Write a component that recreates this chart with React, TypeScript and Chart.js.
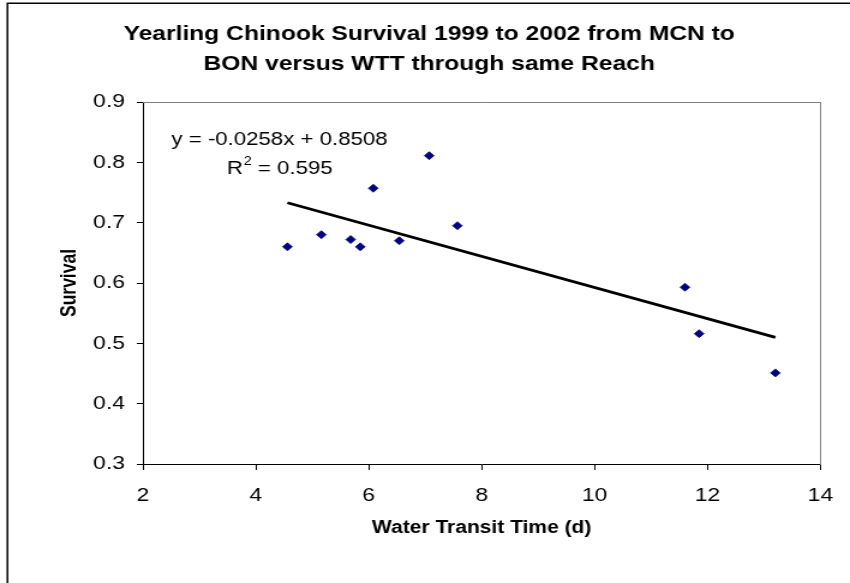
import React, { useEffect, useRef } from "react";
import { Chart, registerables } from "chart.js";

Chart.register(...registerables);

// ---- Data ----
const titleLines = [
  "Yearling Chinook Survival 1999 to 2002 from MCN to",
  "BON versus WTT through same Reach",
];
const xAxisTitle = "Water Transit Time (d)";
const yAxisTitle = "Survival";

const waterTransitTime = [4.56, 5.16, 5.68, 5.85, 6.08, 6.54, 7.07, 7.57, 11.6, 11.85, 13.2];
const survival = [0.66, 0.68, 0.672, 0.66, 0.757, 0.67, 0.811, 0.695, 0.593, 0.516, 0.451];

// Linear trendline end points (as drawn in the reference)
const trendX = [4.56, 13.2];
const trendY = [0.733, 0.51];

const equationText = "y = -0.0258x + 0.8508";
const rSquaredValue = "0.595";
// anchor of the equation label, in data units
const equationAnchor = { x: 4.42, y: 0.837 };
const rSquaredAnchor = { x: 4.42, y: 0.789 };

const xTicks = [2, 4, 6, 8, 10, 12, 14];
const yTicks = [0.3, 0.4, 0.5, 0.6, 0.7, 0.8, 0.9];

const FONT = "'Liberation Sans', Arial, Helvetica, sans-serif";

// The original chart picture is a horizontally stretched Excel chart:
// the canvas is drawn at a narrower backing size and shown at 850px.
const VIEW_W = 850;
const VIEW_H = 583;
const CANVAS_W = 708;
const CANVAS_H = 583;

const decorPlugin = {
  id: "decor",
  beforeDraw(chart: any) {
    const { ctx } = chart;
    ctx.save();
    ctx.fillStyle = "#ffffff";
    ctx.fillRect(0, 0, chart.width, chart.height);
    // outer chart border
    ctx.strokeStyle = "#000000";
    ctx.lineWidth = 1.5;
    ctx.strokeRect(6.2, 3.25, chart.width + 20, chart.height + 20);
    ctx.restore();
  },
  afterDraw(chart: any) {
    const { ctx, chartArea, scales } = chart;
    ctx.save();
    // top edge of plot area (grey)
    ctx.strokeStyle = "#808080";
    ctx.lineWidth = 1;
    ctx.beginPath();
    ctx.moveTo(chartArea.left, chartArea.top + 0.5);
    ctx.lineTo(chartArea.right, chartArea.top + 0.5);
    ctx.stroke();

    // trendline equation
    const x = scales.x;
    const y = scales.y;
    ctx.fillStyle = "#000000";
    ctx.font = `18.5px ${FONT}`;
    ctx.textBaseline = "middle";
    ctx.textAlign = "center";
    ctx.fillText(equationText, x.getPixelForValue(equationAnchor.x), y.getPixelForValue(equationAnchor.y));

    const cx = x.getPixelForValue(rSquaredAnchor.x);
    const cy = y.getPixelForValue(rSquaredAnchor.y);
    const partR = "R";
    const partSup = "2";
    const partRest = " = " + rSquaredValue;
    ctx.font = `18.5px ${FONT}`;
    const wR = ctx.measureText(partR).width;
    const wRest = ctx.measureText(partRest).width;
    ctx.font = `12px ${FONT}`;
    const wSup = ctx.measureText(partSup).width;
    const total = wR + wSup + wRest;
    let px = cx - total / 2;
    ctx.textAlign = "left";
    ctx.font = `18.5px ${FONT}`;
    ctx.fillText(partR, px, cy);
    px += wR;
    ctx.font = `12px ${FONT}`;
    ctx.fillText(partSup, px + 0.5, cy - 7);
    px += wSup + 0.5;
    ctx.font = `18.5px ${FONT}`;
    ctx.fillText(partRest, px, cy);
    ctx.restore();
  },
};

export default function App() {
  const canvasRef = useRef<HTMLCanvasElement | null>(null);

  useEffect(() => {
    if (!canvasRef.current) return;
    Chart.defaults.font.family = FONT;
    Chart.defaults.color = "#000000";

    const chart = new Chart(canvasRef.current, {
      type: "scatter",
      data: {
        datasets: [
          {
            type: "scatter",
            label: "Survival",
            data: waterTransitTime.map((v, i) => ({ x: v, y: survival[i] })),
            pointStyle: "rectRot",
            pointRadius: 4,
            pointBorderWidth: 0.8,
            backgroundColor: "#000080",
            borderColor: "#000080",
            order: 1,
          },
          {
            type: "line",
            label: "Linear",
            data: trendX.map((v, i) => ({ x: v, y: trendY[i] })),
            borderColor: "#000000",
            borderWidth: 2.8,
            pointRadius: 0,
            fill: false,
            order: 2,
          } as any,
        ],
      },
      options: {
        responsive: false,
        animation: false,
        devicePixelRatio: 1,
        layout: { padding: { left: 7, top: 19, right: 0, bottom: 0 } },
        plugins: {
          legend: { display: false },
          tooltip: { enabled: false },
          title: {
            display: true,
            text: titleLines,
            color: "#000000",
            font: { size: 20.5, weight: "bold", family: FONT, lineHeight: 30 / 20.5 },
            padding: { top: 0, bottom: 23 },
          },
        },
        scales: {
          x: {
            type: "linear",
            position: "bottom",
            min: xTicks[0],
            max: xTicks[xTicks.length - 1],
            ticks: {
              stepSize: xTicks[1] - xTicks[0],
              color: "#000000",
              font: { size: 19, family: FONT },
              padding: 14,
              maxRotation: 0,
            },
            grid: { drawOnChartArea: false, drawTicks: true, tickLength: 6, color: "#000000" },
            border: { display: true, color: "#000000", width: 1 },
            title: {
              display: true,
              text: xAxisTitle,
              color: "#000000",
              font: { size: 17.5, weight: "bold", family: FONT },
              padding: { top: 0, bottom: 44 },
            },
            afterFit: (scale: any) => {
              scale.height = 119;
            },
          },
          y: {
            type: "linear",
            position: "left",
            min: yTicks[0],
            max: yTicks[yTicks.length - 1],
            ticks: {
              stepSize: 0.1,
              color: "#000000",
              font: { size: 19, family: FONT },
              padding: 10,
              callback: (v: any) => Number(v).toFixed(1),
            },
            grid: { drawOnChartArea: false, drawTicks: true, tickLength: 5, color: "#000000" },
            border: { display: true, color: "#000000", width: 1 },
            title: {
              display: true,
              text: yAxisTitle,
              color: "#000000",
              font: { size: 17.5, weight: "bold", family: FONT },
              padding: { top: 41, bottom: 0 },
            },
            afterFit: (scale: any) => {
              scale.width = 112;
            },
          },
          y2: {
            type: "linear",
            position: "right",
            min: 0,
            max: 1,
            ticks: { display: false },
            grid: { display: false },
            border: { display: true, color: "#808080", width: 1 },
            afterFit: (scale: any) => {
              scale.width = 22;
            },
          },
        },
      } as any,
      plugins: [decorPlugin],
    });

    return () => chart.destroy();
  }, []);

  return (
    <div style={{ position: "absolute", left: 0, top: 0, width: VIEW_W, height: VIEW_H, overflow: "hidden" }}>
      <canvas
        ref={canvasRef}
        width={CANVAS_W}
        height={CANVAS_H}
        style={{ display: "block", width: VIEW_W + "px", height: VIEW_H + "px" }}
      />
    </div>
  );
}
